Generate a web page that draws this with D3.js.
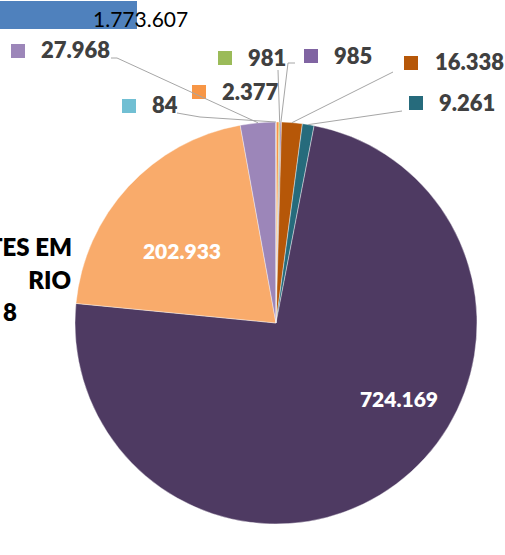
<!DOCTYPE html>
<html>
<head>
<meta charset="utf-8">
<script src="https://cdn.jsdelivr.net/npm/d3@7"></script>
<style>
  body { margin: 0; background: #fff; }
  svg { display: block; font-family: Lato, "Open Sans", sans-serif; }
</style>
</head>
<body>
<div class="chart"></div>
<script>
// slice values, clockwise from 12 o'clock
const labels = ["2.377", "981", "985", "16.338", "9.261", "724.169", "202.933", "27.968", "84"];
const values = [2377, 981, 985, 16338, 9261, 724169, 202933, 27968, 84];
const colors = ["#F79646", "#9BBB59", "#8064A2", "#B65708", "#266B7C", "#4E3A62", "#F9AB6B", "#9C86B9", "#71BFD3"];

// piece of a neighbouring bar chart that is cut off at the top
const barValue = [1773607];
const barLabel = ["1.773.607"];
// cut-off title on the left
const titleParts = ["TES EM", "RIO", "8"];

const width = 505, height = 555;
const cx = 276, cy = 323, radius = 201;

const svg = d3.select(".chart")
  .append("svg")
    .attr("width", width)
    .attr("height", height);

// bar fragment
const xBar = d3.scaleLinear().domain([0, 1773607]).range([0, 137]);
svg.selectAll(".bar")
  .data(barValue)
  .join("rect")
    .attr("class", "bar")
    .attr("x", 0)
    .attr("y", 1)
    .attr("width", d => xBar(d))
    .attr("height", 28)
    .attr("fill", "#4F81BD");
svg.append("text")
  .attr("x", 93)
  .attr("y", 27)
  .attr("font-size", 21)
  .attr("fill", "#000")
  .text(barLabel[0]);

// title fragments
const titlePos = [[72, 256], [71, 289], [17, 321]];
svg.selectAll(".title")
  .data(titleParts)
  .join("text")
    .attr("class", "title")
    .attr("x", (d, i) => titlePos[i][0])
    .attr("y", (d, i) => titlePos[i][1])
    .attr("text-anchor", "end")
    .attr("font-size", 24)
    .attr("font-weight", 800)
    .attr("fill", "#000")
    .text(d => d);

// pie
const pie = d3.pie().sort(null).value(d => d);
const arcs = pie(values);
const arc = d3.arc().innerRadius(0).outerRadius(radius);

const g = svg.append("g").attr("transform", `translate(${cx},${cy})`);
g.selectAll("path")
  .data(arcs)
  .join("path")
    .attr("d", arc)
    .attr("fill", (d, i) => colors[i])
    .attr("stroke", "#fff")
    .attr("stroke-width", 0.4);

// point on the rim at the middle of a slice
function rimPoint(d) {
  const a = (d.startAngle + d.endAngle) / 2;
  return [cx + radius * Math.sin(a), cy - radius * Math.cos(a)];
}

// outside labels: square x,y, text x, baseline, leader start points (null = no leader)
const outside = {
  "27.968": {sq: [11, 44], tx: 41, ty: 58, lead: [[111, 58], [117, 58]]},
  "84":     {sq: [122, 99], tx: 152, ty: 113, lead: [[177, 113], [200, 117]]},
  "2.377":  {sq: [192, 85], tx: 222, ty: 100, lead: null},
  "981":    {sq: [218, 51], tx: 248, ty: 66, lead: [[278, 70]]},
  "985":    {sq: [304, 49], tx: 334, ty: 64, lead: [[295, 63], [288, 63]]},
  "16.338": {sq: [404, 56], tx: 435, ty: 70, lead: [[393, 72]]},
  "9.261":  {sq: [409, 96], tx: 439, ty: 111, lead: [[402, 111]]}
};

const line = d3.line();
arcs.forEach((d, i) => {
  const o = outside[labels[i]];
  if (!o) return;
  if (o.lead) {
    svg.append("path")
      .attr("d", line(o.lead.concat([rimPoint(d)])))
      .attr("fill", "none")
      .attr("stroke", "#A6A6A6")
      .attr("stroke-width", 1);
  }
  svg.append("rect")
    .attr("x", o.sq[0])
    .attr("y", o.sq[1])
    .attr("width", 14)
    .attr("height", 14)
    .attr("fill", colors[i]);
  svg.append("text")
    .attr("x", o.tx)
    .attr("y", o.ty)
    .attr("font-size", 22)
    .attr("font-weight", 800)
    .attr("fill", "#404040")
    .text(labels[i]);
});

// inside labels
const inside = {"202.933": [182, 259], "724.169": [399, 407]};
arcs.forEach((d, i) => {
  const p = inside[labels[i]];
  if (!p) return;
  svg.append("text")
    .attr("x", p[0])
    .attr("y", p[1])
    .attr("text-anchor", "middle")
    .attr("font-size", 21)
    .attr("font-weight", 800)
    .attr("fill", "#fff")
    .text(labels[i]);
});
</script>
</body>
</html>
